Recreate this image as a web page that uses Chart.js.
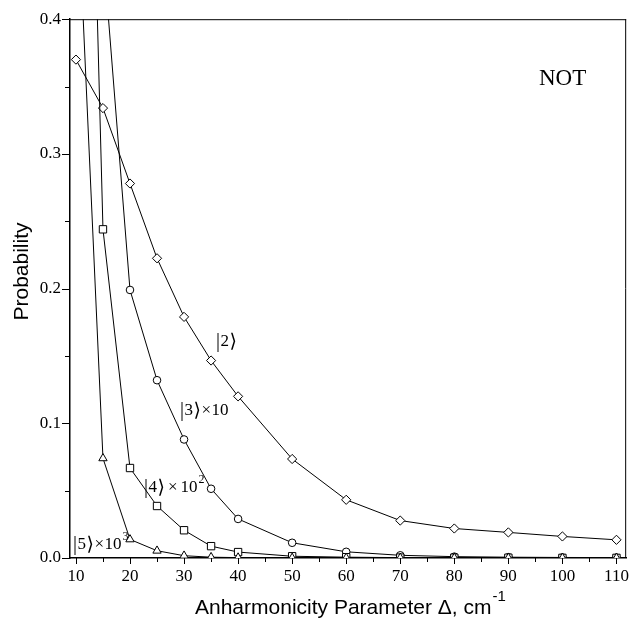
<!DOCTYPE html>
<html>
<head>
<meta charset="utf-8">
<script src="https://cdn.jsdelivr.net/npm/chart.js@4.4.1/dist/chart.umd.min.js"></script>
<style>
html,body{margin:0;padding:0;background:#fff;}
canvas{display:block;}
</style>
</head>
<body>
<canvas id="c" width="637" height="618"></canvas>
<script>
// ---- data ----
const deltas = [10, 15, 20, 25, 30, 35, 40, 50, 60, 70, 80, 90, 100, 110];
const state2 = [0.370, 0.334, 0.278, 0.2225, 0.179, 0.1466, 0.120, 0.0735, 0.0432, 0.0278, 0.0219, 0.019, 0.016, 0.0135];
const state3x10 = [2.5, 0.452, 0.199, 0.132, 0.088, 0.0514, 0.029, 0.0113, 0.0046, 0.002, 0.001, 0.0006, 0.0004, 0.0003];
const state4x100 = [1.0, 0.244, 0.0668, 0.0386, 0.0206, 0.0088, 0.0044, 0.0013, 0.0006, 0.0003, 0.0002, 0.0002, 0.0001, 0.0001];
const state5x1000 = [0.52, 0.074, 0.0138, 0.0054, 0.0017, 0.0006, 0.0003, 0.0001, 0.0001, 0.0001, 0.0001, 0.0001, 0.0001, 0.0001];

const xTickValues = [10, 20, 30, 40, 50, 60, 70, 80, 90, 100, 110];
const xMinorTickValues = [15, 25, 35, 45, 55, 65, 75, 85, 95, 105];
const yTickValues = [0.0, 0.1, 0.2, 0.3, 0.4];
const yTickLabels = ['0.0', '0.1', '0.2', '0.3', '0.4'];
const yMinorTickValues = [0.05, 0.15, 0.25, 0.35];

const xTitle = 'Anharmonicity Parameter \u0394, cm';
const xTitleSup = '-1';
const yTitle = 'Probability';
const panelLabel = 'NOT';

function pts(ys) { return deltas.map((x, i) => ({ x: x, y: ys[i] })); }

const serif = '"Liberation Serif", "Times New Roman", "DejaVu Serif", serif';
const sans = '"Liberation Sans", Arial, "DejaVu Sans", sans-serif';

function ds(label, ys, style, r, order) {
  return {
    label: label, data: pts(ys), borderColor: '#000', borderWidth: 1,
    backgroundColor: '#fff', pointStyle: style, pointRadius: r,
    pointBorderColor: '#000', pointBackgroundColor: '#fff', pointBorderWidth: 1,
    tension: 0, order: order
  };
}

const decor = {
  id: 'decor',
  afterDraw(chart) {
    const ctx = chart.ctx, a = chart.chartArea;
    const xs = chart.scales.x, ys = chart.scales.y;
    ctx.save();
    ctx.strokeStyle = '#000';
    // frame top and right
    ctx.lineWidth = 1;
    ctx.beginPath();
    ctx.moveTo(a.left, a.top + 0.5); ctx.lineTo(a.right, a.top + 0.5);
    ctx.moveTo(a.right - 0.5, a.top); ctx.lineTo(a.right - 0.5, a.bottom);
    ctx.stroke();
    // ticks
    ctx.beginPath();
    xTickValues.forEach(v => { const p = Math.round(xs.getPixelForValue(v)) + 0.5; ctx.moveTo(p, a.bottom); ctx.lineTo(p, a.bottom + 6); });
    xMinorTickValues.forEach(v => { const p = Math.round(xs.getPixelForValue(v)) + 0.5; ctx.moveTo(p, a.bottom); ctx.lineTo(p, a.bottom + 4); });
    yTickValues.forEach(v => { const p = Math.round(ys.getPixelForValue(v)) + 0.5; ctx.moveTo(a.left - 8, p); ctx.lineTo(a.left, p); });
    yMinorTickValues.forEach(v => { const p = Math.round(ys.getPixelForValue(v)) + 0.5; ctx.moveTo(a.left - 5, p); ctx.lineTo(a.left, p); });
    ctx.stroke();

    ctx.fillStyle = '#000';
    // axis titles
    ctx.font = '21px ' + sans;
    ctx.textAlign = 'left'; ctx.textBaseline = 'alphabetic';
    ctx.fillText(xTitle, 195, 614);
    const w = ctx.measureText(xTitle).width;
    ctx.font = '15px ' + sans;
    ctx.fillText(xTitleSup, 195 + w + 1, 601);
    ctx.save();
    ctx.translate(28, 271.5);
    ctx.rotate(-Math.PI / 2);
    ctx.font = '21px ' + sans;
    ctx.textAlign = 'center';
    ctx.fillText(yTitle, 0, 0);
    ctx.restore();

    // panel label
    ctx.font = '23px ' + serif;
    ctx.textAlign = 'left';
    ctx.fillText(panelLabel, 539, 85);

    // curve labels
    function ket(n, x, y, mult, sup, gap) {
      let cx = x;
      ctx.font = '20px ' + serif;
      ctx.fillText('|', cx, y + 1); cx += ctx.measureText('|').width + 0.5;
      ctx.font = '17px ' + serif;
      ctx.fillText(n, cx, y); cx += ctx.measureText(n).width + 0.5;
      ctx.font = '19px ' + serif;
      ctx.fillText('\u27E9', cx, y + 1); cx += ctx.measureText('\u27E9').width;
      if (mult) {
        ctx.font = '17px ' + serif;
        cx += gap;
        ctx.fillText('\u00D7', cx, y); cx += ctx.measureText('\u00D7').width + gap;
        ctx.fillText(mult, cx, y); cx += ctx.measureText(mult).width + 1;
        if (sup) { ctx.font = '12px ' + serif; ctx.fillText(sup, cx, y - 9); }
      }
    }
    ket('2', 216, 346, null, null, 0);
    ket('3', 180, 415, '10', null, 0.5);
    ket('4', 144, 492, '10', '2', 3);
    ket('5', 73, 549, '10', '3', 0.5);
    ctx.restore();
  }
};

new Chart(document.getElementById('c'), {
  type: 'line',
  data: {
    datasets: [
      ds('|2>', state2, 'rectRot', 4.6, 4),
      ds('|3>x10', state3x10, 'circle', 3.8, 3),
      ds('|4>x10^2', state4x100, 'rect', 5.2, 2),
      ds('|5>x10^3', state5x1000, 'triangle', 4.8, 1)
    ]
  },
  options: {
    responsive: false,
    animation: false,
    devicePixelRatio: 1,
    layout: { padding: { top: 15, right: 4, left: 0, bottom: 0 } },
    plugins: { legend: { display: false }, tooltip: { enabled: false } },
    scales: {
      x: {
        type: 'linear', min: 8.9, max: 111.8,
        afterBuildTicks: s => { s.ticks = xTickValues.map(v => ({ value: v })); },
        afterFit: s => { s.height = 60; },
        grid: { display: false, drawTicks: false },
        border: { display: true, color: '#000', width: 1.5 },
        ticks: { color: '#000', font: { family: serif, size: 17 }, padding: 8, maxRotation: 0, autoSkip: false,
                 callback: v => String(v) }
      },
      y: {
        type: 'linear', min: 0, max: 0.4,
        afterBuildTicks: s => { s.ticks = yTickValues.map(v => ({ value: v })); },
        afterFit: s => { s.width = 70; },
        grid: { display: false, drawTicks: false },
        border: { display: true, color: '#000', width: 1.5 },
        ticks: { color: '#000', font: { family: serif, size: 17 }, padding: 9,
                 callback: (v, i) => yTickLabels[i] }
      }
    }
  },
  plugins: [decor]
});
</script>
</body>
</html>
